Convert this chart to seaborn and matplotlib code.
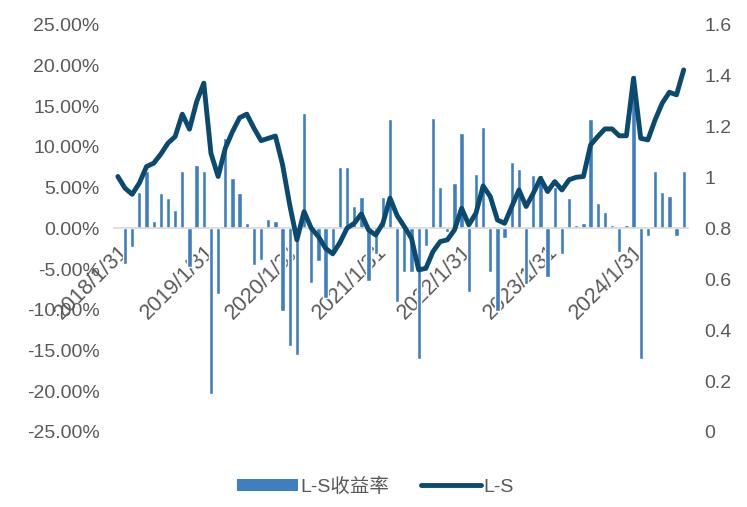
import numpy as np
import pandas as pd
import matplotlib
matplotlib.use("Agg")
import matplotlib.pyplot as plt
import seaborn as sns
from matplotlib.patches import Patch
from matplotlib.lines import Line2D
from matplotlib.ticker import FuncFormatter, MultipleLocator

# monthly returns of the long-short portfolio (%), 2018/1 .. 2024/8
returns = [
    0.2, -4.4, -2.3, 4.5, 7.1, 0.9, 4.3, 3.7, 2.3, 7.0, -4.8, 7.8,
    7.0, -20.3, -8.0, 11.1, 6.2, 4.3, 0.7, -4.5, -3.9, 1.2, 0.9, -10.1,
    -14.5, -15.6, 14.2, -6.7, -4.0, -8.5, -3.0, 7.5, 7.5, 2.8, 3.9, -6.5,
    -3.1, 3.9, 13.4, -9.0, -5.4, -5.4, -16.1, -2.1, 13.6, 5.1, -0.4, 5.6,
    11.7, -7.8, 6.7, 12.5, -5.4, -10.1, -1.2, 8.1, 7.3, -6.8, 6.5, 6.5,
    -6.0, 5.1, -3.1, 3.7, 0.4, 0.65, 13.4, 3.1, 2.0, 0.4, -2.9, 0.4,
    18.9, -16.1, -0.9, 7.0, 4.5, 4.0, -0.9, 7.0,
]

# net value of the long-short portfolio
net_value = [
    1.004, 0.958, 0.934, 0.978, 1.043, 1.056, 1.092, 1.135, 1.161, 1.249, 1.190, 1.298,
    1.371, 1.095, 1.004, 1.115, 1.180, 1.235, 1.249, 1.194, 1.145, 1.154, 1.163, 1.050,
    0.892, 0.755, 0.866, 0.801, 0.768, 0.722, 0.700, 0.744, 0.801, 0.820, 0.857, 0.794,
    0.774, 0.820, 0.919, 0.850, 0.807, 0.761, 0.637, 0.643, 0.709, 0.748, 0.755, 0.794,
    0.879, 0.814, 0.860, 0.967, 0.925, 0.833, 0.820, 0.886, 0.951, 0.886, 0.938, 0.997,
    0.945, 0.984, 0.951, 0.991, 1.001, 1.004, 1.128, 1.161, 1.191, 1.191, 1.164, 1.164,
    1.390, 1.154, 1.148, 1.226, 1.292, 1.335, 1.325, 1.423,
]

tick_labels = ["2018/1/31", "2019/1/31", "2020/1/31", "2021/1/31",
               "2022/1/31", "2023/1/31", "2024/1/31"]

bar_color = "#3f7fc1"
line_color = "#0a4a6e"
text_color = "#595959"

sns.set_style("white")
plt.rcParams["font.family"] = ["Liberation Sans", "Noto Sans CJK SC", "DejaVu Sans"]

df = pd.DataFrame({"idx": np.arange(len(returns)), "ret": np.array(returns) / 100, "nv": net_value})

fig = plt.figure(figsize=(7.47, 5.07), dpi=100)
ax = fig.add_axes([0.152, 0.148, 0.769, 0.803])

sns.barplot(data=df, x="idx", y="ret", color=bar_color, width=0.6, saturation=1, ax=ax)
ax.set_xlim(-0.6, 79.6)
ax.set_ylim(-0.25, 0.25)
ax.yaxis.set_major_locator(MultipleLocator(0.05))
ax.yaxis.set_major_formatter(FuncFormatter(lambda v, p: f"{v * 100:.2f}%"))
ax.set_xlabel("")
ax.set_ylabel("")

for s in ["top", "right", "left"]:
    ax.spines[s].set_visible(False)
ax.spines["bottom"].set_position(("data", 0))
ax.spines["bottom"].set_color("#d9d9d9")
ax.spines["bottom"].set_linewidth(1.2)

ax.set_xticks(range(0, 80, 12))
ax.set_xticklabels(tick_labels, rotation=45, ha="right", rotation_mode="anchor")
ax.tick_params(axis="x", direction="in", length=4, color="#d9d9d9", pad=9,
               labelsize=15.5, labelcolor=text_color)
ax.tick_params(axis="y", length=0, pad=10, labelsize=14, labelcolor=text_color)

ax2 = ax.twinx()
sns.lineplot(data=df, x="idx", y="nv", color=line_color, linewidth=3.5, ax=ax2,
             solid_joinstyle="round", solid_capstyle="round")
ax2.set_ylim(0, 1.6)
ax2.yaxis.set_major_locator(MultipleLocator(0.2))
ax2.yaxis.set_major_formatter(FuncFormatter(lambda v, p: f"{v:g}"))
ax2.set_ylabel("")
ax2.set_xlabel("")
for s in ["top", "right", "left", "bottom"]:
    ax2.spines[s].set_visible(False)
ax2.tick_params(axis="y", length=0, pad=12, labelsize=14, labelcolor=text_color)

handles = [
    Patch(facecolor=bar_color, edgecolor="none", label="L-S收益率"),
    Line2D([0], [0], color=line_color, linewidth=3.5, solid_capstyle="round", label="L-S"),
]
fig.legend(handles=handles, loc="center", bbox_to_anchor=(0.503, 0.04), ncol=2,
           frameon=False, fontsize=14, labelcolor=text_color, handlelength=3.1,
           handleheight=0.65, handletextpad=0.15, columnspacing=1.6)

fig.savefig("out.png", dpi=100)
